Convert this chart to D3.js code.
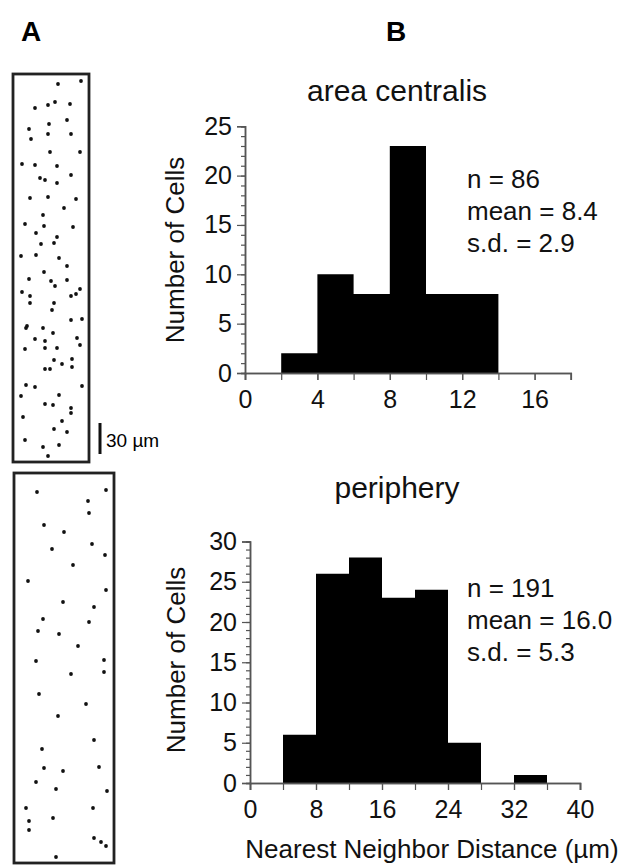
<!DOCTYPE html>
<html>
<head>
<meta charset="utf-8">
<script src="https://cdn.jsdelivr.net/npm/d3@7"></script>
<style>
  body { margin: 0; background: #fff; }
  svg { display: block; font-family: "Liberation Sans", Arial, sans-serif; }
</style>
</head>
<body>
<div class="figure"></div>
<script>
// histogram data, area centralis (bin width 2 um)
var centralBins = [2, 4, 6, 8, 10, 12];
var centralCounts = [2, 10, 8, 23, 8, 8];
var centralXTicks = [0, 4, 8, 12, 16];
var centralYTicks = [0, 5, 10, 15, 20, 25];
var centralStats = ["n = 86", "mean = 8.4", "s.d. = 2.9"];

// histogram data, periphery (bin width 4 um)
var periBins = [4, 8, 12, 16, 20, 24, 28, 32];
var periCounts = [6, 26, 28, 23, 24, 5, 0, 1];
var periXTicks = [0, 8, 16, 24, 32, 40];
var periYTicks = [0, 5, 10, 15, 20, 25, 30];
var periStats = ["n = 191", "mean = 16.0", "s.d. = 5.3"];

// cell positions in the sample fields, um from top-left of field
var centralDots = [[45,10],[68,7],[22,34],[35,31],[42,28],[57,30],[54,46],[36,50],[16,55],[18,65],
  [35,60],[58,60],[37,78],[67,78],[9,90],[22,91],[44,92],[58,101],[27,104],[32,106],
  [44,109],[17,124],[35,123],[63,125],[51,134],[30,141],[12,150],[31,152],[60,153],[23,159],
  [44,163],[41,169],[28,170],[8,182],[23,181],[46,184],[54,192],[31,198],[16,205],[38,207],
  [42,212],[54,206],[9,218],[17,222],[67,215],[63,220],[58,222],[17,229],[41,229],[39,236],
  [58,246],[69,245],[14,252],[13,254],[30,254],[40,259],[64,264],[22,265],[32,267],[67,271],
  [12,275],[32,274],[44,274],[41,286],[59,285],[49,290],[59,293],[32,295],[37,295],[13,311],
  [22,313],[69,312],[8,322],[46,321],[32,330],[40,331],[58,334],[58,339],[10,343],[49,347],
  [41,355],[54,358],[12,366],[30,373],[46,371],[35,382]];
var periDots = [[23,19],[92,17],[74,28],[75,40],[30,52],[50,59],[78,71],[38,76],[91,82],[59,92],
  [14,108],[92,117],[49,129],[80,134],[29,146],[75,149],[24,158],[45,161],[64,173],[22,188],
  [90,187],[57,201],[90,199],[25,221],[72,231],[44,243],[80,267],[28,276],[30,295],[85,294],
  [49,298],[22,309],[42,316],[93,318],[12,335],[79,335],[15,348],[39,345],[15,357],[80,365],
  [87,369],[92,373],[42,384]];

var svg = d3.select(".figure").append("svg")
    .attr("width", 629)
    .attr("height", 865);

// panel letters
svg.append("text").attr("x", 31).attr("y", 41).attr("text-anchor", "middle")
    .attr("font-size", "28px").attr("font-weight", "bold").text("A");
svg.append("text").attr("x", 396).attr("y", 41).attr("text-anchor", "middle")
    .attr("font-size", "28px").attr("font-weight", "bold").text("B");

function addField(left, top, w, h, dots) {
    var x = d3.scaleLinear().domain([0, w]).range([left, left + w]);
    var y = d3.scaleLinear().domain([0, h]).range([top, top + h]);
    svg.append("rect")
        .attr("x", left).attr("y", top)
        .attr("width", w).attr("height", h)
        .attr("fill", "none")
        .attr("stroke", "#222")
        .attr("stroke-width", 2.8);
    svg.append("g").selectAll("circle")
        .data(dots)
        .enter().append("circle")
        .attr("cx", function (d) { return x(d[0]); })
        .attr("cy", function (d) { return y(d[1]); })
        .attr("r", 1.9)
        .attr("fill", "#111");
}

addField(13, 74, 76, 388, centralDots);
addField(14, 473, 100, 390, periDots);

// 30 um scale bar
svg.append("line")
    .attr("x1", 100).attr("x2", 100)
    .attr("y1", 423).attr("y2", 423 + 31)
    .attr("stroke", "#111").attr("stroke-width", 3);
svg.append("text").attr("x", 106).attr("y", 447)
    .attr("font-size", "19px").text("30 \u00b5m");

function addHist(o) {
    var x = d3.scaleLinear().domain([0, o.xmax]).range([o.x0, o.x0 + o.xmax * o.kx]);
    var y = d3.scaleLinear().domain([0, o.ymax]).range([o.y0, o.y0 - o.ymax * o.ky]);

    var g = svg.append("g");

    // bars as one stepped shape so neighbours join without seams
    var steps = o.bins.map(function (b, i) { return [b, o.counts[i]]; });
    steps.push([o.bins[o.bins.length - 1] + o.bw, o.counts[o.counts.length - 1]]);
    var area = d3.area()
        .curve(d3.curveStepAfter)
        .x(function (d) { return x(d[0]); })
        .y0(y(0))
        .y1(function (d) { return y(d[1]); });
    g.append("path")
        .datum(steps)
        .attr("d", area)
        .attr("fill", "#000");

    // minor ticks
    g.append("g")
        .attr("transform", "translate(0," + o.y0 + ")")
        .call(d3.axisBottom(x).tickValues(d3.range(0, o.xmax + 0.1, o.xminor)).tickSize(7).tickFormat(""));
    g.append("g")
        .attr("transform", "translate(" + o.x0 + ",0)")
        .call(d3.axisLeft(y).tickValues(d3.range(0, o.ymax + 0.1, 1)).tickSize(4).tickFormat(""));

    // labelled axes
    g.append("g")
        .attr("class", "xax")
        .attr("transform", "translate(0," + o.y0 + ")")
        .call(d3.axisBottom(x).tickValues(o.xticks).tickSize(7).tickPadding(10));
    g.append("g")
        .attr("class", "yax")
        .attr("transform", "translate(" + o.x0 + ",0)")
        .call(d3.axisLeft(y).tickValues(o.yticks).tickSize(8).tickPadding(5));

    g.selectAll(".domain").attr("stroke", "#555").attr("stroke-width", 1.5);
    g.selectAll(".tick line").attr("stroke", "#555").attr("stroke-width", 1.2);
    g.selectAll(".tick text")
        .attr("font-size", "25px")
        .attr("font-family", "Liberation Sans, Arial, sans-serif")
        .attr("fill", "#111");

    g.append("text")
        .attr("transform", "translate(" + o.ytx + "," + o.yty + ") rotate(-90)")
        .attr("text-anchor", "middle")
        .attr("font-size", "26px")
        .attr("fill", "#111")
        .text("Number of Cells");

    g.append("text")
        .attr("x", 397).attr("y", o.titleY)
        .attr("text-anchor", "middle")
        .attr("font-size", "30px")
        .attr("fill", "#111")
        .text(o.title);

    g.selectAll(".stat")
        .data(o.stats)
        .enter().append("text")
        .attr("class", "stat")
        .attr("x", 467)
        .attr("y", function (d, i) { return o.statY + i * 32; })
        .attr("font-size", "26px")
        .attr("fill", "#111")
        .text(function (d) { return d; });
}

addHist({
    bins: centralBins, counts: centralCounts, bw: 2,
    xticks: centralXTicks, yticks: centralYTicks,
    xmax: 18, ymax: 25, xminor: 2,
    x0: 245, kx: 18.1, y0: 373, ky: 9.87,
    ytx: 184, yty: 250,
    title: "area centralis", titleY: 101,
    stats: centralStats, statY: 188
});

addHist({
    bins: periBins, counts: periCounts, bw: 4,
    xticks: periXTicks, yticks: periYTicks,
    xmax: 40, ymax: 30, xminor: 4,
    x0: 250, kx: 8.25, y0: 783, ky: 8.05,
    ytx: 185, yty: 660,
    title: "periphery", titleY: 498,
    stats: periStats, statY: 597
});

svg.append("text")
    .attr("x", 432).attr("y", 858)
    .attr("text-anchor", "middle")
    .attr("font-size", "26px")
    .attr("fill", "#111")
    .text("Nearest Neighbor Distance (\u00b5m)");
</script>
</body>
</html>
